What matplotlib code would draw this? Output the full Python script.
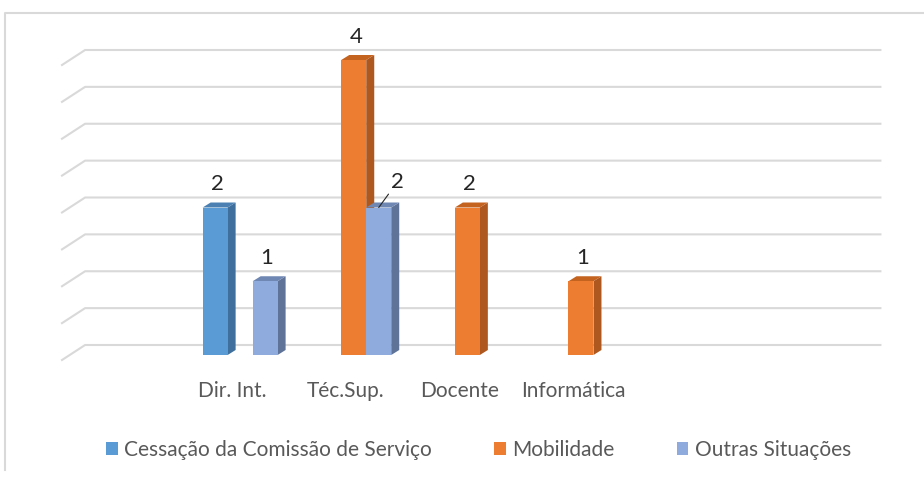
import matplotlib.pyplot as plt
from matplotlib.patches import Polygon, Rectangle
from matplotlib.lines import Line2D

plt.rcParams['font.family'] = ['Lato', 'DejaVu Sans']

categories = ["", "Dir. Int.", "Téc.Sup.", "Docente", "Informática", "", ""]
series = ["Cessação da Comissão de Serviço", "Mobilidade", "Outras Situações"]
cessacao = [0, 2, 0, 0, 0, 0, 0]
mobilidade = [0, 0, 4, 2, 1, 0, 0]
outras = [0, 1, 2, 0, 0, 0, 0]
yticks = [0, 0.5, 1, 1.5, 2, 2.5, 3, 3.5, 4]

# front, side, top colours per series
colors = [("#5B9BD5", "#3F6F9C", "#4B80B3"),
          ("#ED7D31", "#AE5820", "#C4621F"),
          ("#8FAADC", "#5F7398", "#6F87B3")]

W, H = 924, 479
fig = plt.figure(figsize=(W / 100, H / 100), dpi=100)
left_px, right_px, bot_px, top_px = 69.7, 865, 355, 60
ax = fig.add_axes([left_px / W, 1 - bot_px / H, (right_px - left_px) / W, (bot_px - top_px) / H])
ax.set_xlim(-0.5, len(categories) - 0.5)
ax.set_ylim(0, 4)
ax.axis("off")

sx = (right_px - left_px) / len(categories)  # px per x unit
sy = (bot_px - top_px) / 4.0                 # px per y unit

def px(dx, dy):
    return dx / sx, dy / sy

# back wall gridlines and floor diagonals
bx, by = px(15.4, 10)
fx, fy = px(-7.7, -5)
x0, x1 = -0.5, len(categories) - 0.5
for v in yticks:
    ax.add_line(Line2D([x0 + fx, x0 + bx, x1 + bx], [v + fy, v + by, v + by],
                       color="#D9D9D9", lw=1.5, clip_on=False, zorder=0))

# bars with pseudo 3D faces
bw = 0.22
dx, dy = px(8, 5)
data = [cessacao, mobilidade, outras]
for i in range(len(categories)):
    for k, vals in enumerate(data):
        v = vals[i]
        if v == 0:
            continue
        xl = i + (k - 1) * bw - bw / 2
        xr = xl + bw
        front, side, top = colors[k]
        z = 2 + i * 3 + k
        ax.add_patch(Polygon([(xr, 0), (xr + dx, dy), (xr + dx, v + dy), (xr, v)],
                             closed=True, fc=side, ec="none", clip_on=False, zorder=z))
        ax.add_patch(Polygon([(xl, v), (xr, v), (xr + dx, v + dy), (xl + dx, v + dy)],
                             closed=True, fc=top, ec="none", clip_on=False, zorder=z))
        ax.add_patch(Rectangle((xl, 0), bw, v, fc=front, ec="none", clip_on=False, zorder=z))
        xc = (xl + xr) / 2
        if i == 2 and k == 2:
            ax.annotate(str(v), xy=(xc, v), xytext=(19, 16), textcoords="offset pixels",
                        ha="center", va="bottom", fontsize=16, color="#262626",
                        arrowprops=dict(arrowstyle="-", color="#262626", lw=0.8,
                                        shrinkA=0, shrinkB=0),
                        zorder=50)
        else:
            ax.annotate(str(v), xy=(xc, v), xytext=(2, 13), textcoords="offset pixels",
                        ha="center", va="bottom", fontsize=16, color="#262626", zorder=50)

# category labels on the floor front edge
for i, c in enumerate(categories):
    ax.annotate(c, xy=(i, 0), xytext=(-7.7, -36), textcoords="offset pixels",
                ha="center", va="center", fontsize=15, color="#595959")

handles = [Rectangle((0, 0), 1, 1, fc=colors[k][0], ec="none") for k in range(3)]
fig.legend(handles, series, loc="center", bbox_to_anchor=(0.518, 0.061), ncol=3,
           frameon=False, fontsize=15, labelcolor="#595959", handlelength=0.55,
           handleheight=0.55, handletextpad=0.3, columnspacing=3.0)

# outer chart border (left and top)
fig.add_artist(Line2D([5 / W, 5 / W, 1], [1 - 470 / H, 1 - 13 / H, 1 - 13 / H],
                      transform=fig.transFigure, color="#D9D9D9", lw=1.5))

fig.savefig("out.png", dpi=100)
